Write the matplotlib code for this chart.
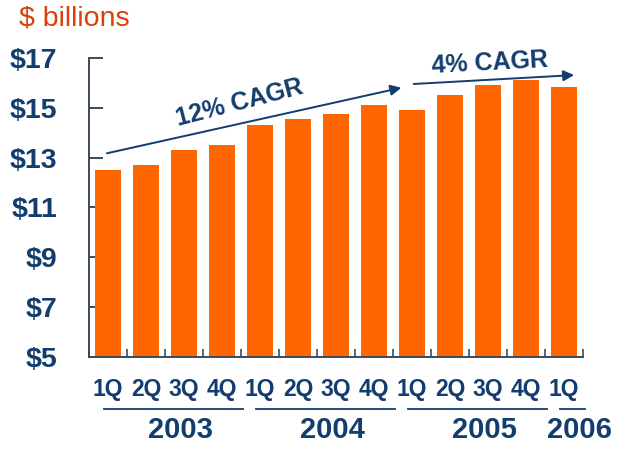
import numpy as np
import matplotlib.pyplot as plt

# quarterly revenue, $ billions
quarters = ["1Q", "2Q", "3Q", "4Q", "1Q", "2Q", "3Q", "4Q",
            "1Q", "2Q", "3Q", "4Q", "1Q"]
revenue = [12.5, 12.7, 13.3, 13.5, 14.3, 14.55, 14.75, 15.1,
           14.9, 15.5, 15.9, 16.1, 15.85]
years = ["2003", "2004", "2005", "2006"]
year_first = [0, 4, 8, 12]
year_last = [3, 7, 11, 12]
yticks = [5, 7, 9, 11, 13, 15, 17]

navy = "#123d6e"
orange = "#ff6600"
plt.rcParams['font.family'] = ['Liberation Sans', 'DejaVu Sans']

fig = plt.figure(figsize=(6.21, 4.54), dpi=100)
ax = fig.add_axes([0.1433, 0.2137, 0.7955, 0.6586])

x = np.arange(len(revenue))
ax.bar(x, revenue, width=0.68, color=orange, zorder=2)
ax.set_xlim(-0.5, len(revenue) - 0.5)
ax.set_ylim(5, 17)

for s in ["top", "right"]:
    ax.spines[s].set_visible(False)
for s in ["left", "bottom"]:
    ax.spines[s].set_color("#3b4a5a")
    ax.spines[s].set_linewidth(1.4)

ax.set_yticks(yticks)
ax.set_yticklabels(["$%d" % v for v in yticks], fontsize=20.5, fontweight="bold", color=navy)
ax.tick_params(axis="y", direction="in", length=10, width=1.4, color="#3b4a5a", pad=23)
ax.set_xticks(np.arange(len(revenue) + 1) - 0.5)
ax.set_xticklabels([])
ax.tick_params(axis="x", direction="in", length=6, width=1.2, color="#3b4a5a")

# quarter labels
for i, q in enumerate(quarters):
    ax.text(i, 3.7, q, ha="center", va="center", fontsize=16.5, fontweight="bold",
            color=navy, clip_on=False)

# year group underlines and labels
for name, a, b in zip(years, year_first, year_last):
    ax.plot([a - 0.1, b + 0.55], [2.92, 2.92], color=navy, lw=1.3, clip_on=False)
    ax.text((a + b) / 2 + 0.4, 2.05, name, ha="center", va="center", fontsize=21,
            fontweight="bold", color=navy, clip_on=False)

# growth arrows
ax.annotate("", xy=(7.79, 15.83), xytext=(-0.1, 13.15),
            arrowprops=dict(arrowstyle="-|>", color=navy, lw=1.4, mutation_scale=16))
ax.annotate("", xy=(12.34, 16.32), xytext=(7.97, 15.95),
            arrowprops=dict(arrowstyle="-|>", color=navy, lw=1.4, mutation_scale=16),
            annotation_clip=False)
ax.text(3.47, 15.2, "12% CAGR", rotation=14.5, ha="center", va="center",
        fontsize=18, fontweight="bold", color=navy)
ax.text(10.05, 16.8, "4% CAGR", rotation=3, ha="center", va="center",
        fontsize=18, fontweight="bold", color=navy, clip_on=False)

fig.text(0.031, 0.96, "$ billions", ha="left", va="center", fontsize=20.5,
         color="#d8400c")

fig.savefig("out.png", dpi=100)
